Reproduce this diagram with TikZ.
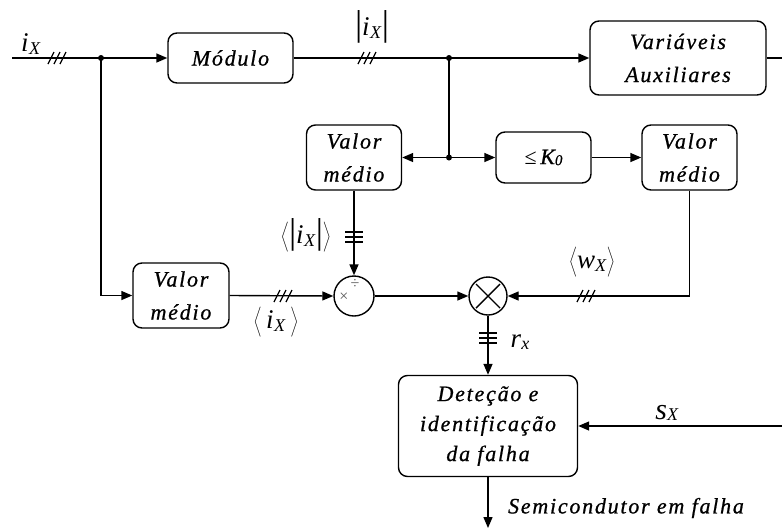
\documentclass[tikz,border=0pt]{standalone}
\usepackage{fontspec}
\setmainfont{Liberation Serif}[ItalicFont=Liberation Serif Italic]
\newfontfamily\boxfont{Liberation Serif}[LetterSpace=8,ItalicFont=Liberation Serif Italic,
  ItalicFeatures={FakeBold=0.8}]
\usetikzlibrary{arrows.meta}

% symbols used in the signal labels
\newcommand\subX{\raisebox{-3pt}{\fontsize{18}{18}\selectfont\textit{X}}}
\newcommand\ixsym{\textit{i}\kern0.5pt\subX}
\newcommand\vbar{{\fontsize{36}{36}\selectfont\upshape|}}
\newcommand\avg[1]{\ensuremath{\left\langle\rule[-12pt]{0pt}{36pt}\hbox{#1}\right\rangle}}

\tikzset{
  wire/.style={line width=1.4pt},
  arr/.style={wire, -{Triangle[length=11pt,width=9pt]}},
  blk/.style={draw, line width=1.4pt, rounded corners=9pt, align=center,
    inner sep=0pt, font=\boxfont\itshape\fontsize{22}{33}\selectfont},
  sumc/.style={draw, circle, line width=1.4pt, inner sep=0pt},
  lbl/.style={inner sep=0pt, font=\fontsize{27}{27}\selectfont},
  tslash/.pic={\foreach \d in {-6,0,6} \draw[line width=1.2pt] (\d-3,6) -- (\d+3,-6);},
  tbars/.pic={\foreach \d in {-5,0,5} \draw[line width=1.2pt] (-9,\d) -- (9,\d);}
}

\begin{document}
\begin{tikzpicture}[x=1pt,y=-1pt]
\useasboundingbox (0,0) rectangle (782,528);

% blocks
\node[blk, minimum width=125pt, minimum height=50pt] (mod) at (230.5,58) {Módulo};
\node[blk, minimum width=176pt, minimum height=74pt] (var) at (678,58) {Variáveis\\Auxiliares};
\node[blk, minimum width=95pt, minimum height=65pt] (vma) at (354,157.5) {Valor\\médio};
\node[blk, minimum width=95pt, minimum height=51pt] (kz) at (543.5,157.5)
  {\upshape≤\,\itshape K\raisebox{-1pt}{\fontsize{15}{15}\selectfont 0}};
\node[blk, minimum width=95pt, minimum height=65pt] (vmb) at (689.5,157.5) {Valor\\médio};
\node[blk, minimum width=96pt, minimum height=65pt] (vmc) at (181,295.5) {Valor\\médio};
\node[blk, minimum width=179pt, minimum height=101pt,
  font=\boxfont\itshape\fontsize{22}{30}\selectfont] (det) at (488,426)
  {Deteção e\\identificação\\da falha};

% divider and multiplier
\node[sumc, minimum size=40pt] (dv) at (354,296) {};
\node[inner sep=0pt, text=black!65, font=\fontsize{16}{16}\selectfont] (dvx) at (344,297) {×};
\node[inner sep=0pt, text=black!65, font=\fontsize{16}{16}\selectfont] (dvd) at (355,284) {÷};
\node[sumc, minimum size=38pt] (ml) at (488,296) {};
\draw[wire] ([shift={(-12,-12)}]ml.center) -- ([shift={(12,12)}]ml.center);
\draw[wire] ([shift={(-12,12)}]ml.center) -- ([shift={(12,-12)}]ml.center);

% junctions and free ends
\coordinate (inp) at (12,58);
\coordinate (ja) at (101,58);
\coordinate (jb) at (449,58);
\coordinate (jc) at (449,157.5);
\coordinate (outa) at (782,58);
\coordinate (sxin) at (782,426);
\coordinate (fout) at (488,528);

% connectors
\draw[arr] (inp) -- (mod.west);
\draw[arr] (mod.east) -- (var.west);
\draw[wire] (var.east) -- (outa);
\draw[wire] (jb) -- (jc);
\draw[arr] (jc) -- (vma.east);
\draw[arr] (jc) -- (kz.west);
\draw[arr] (kz.east) -- (vmb.west);
\draw[arr] (vmb.south) |- (ml.east);
\draw[arr] (ja) |- (vmc.west);
\draw[arr] (vmc.east) -- (dv.west);
\draw[arr] (vma.south) -- (dv.north);
\draw[arr] (dv.east) -- (ml.west);
\draw[arr] (ml.south) -- (det.north);
\draw[arr] (sxin) -- (det.east);
\draw[arr] (det.south) -- (fout);

\fill (ja) circle (3pt);
\fill (jb) circle (3pt);
\fill (jc) circle (3pt);

% bus markers
\pic at (57,58) {tslash};
\pic at (367,58) {tslash};
\pic at (283,296) {tslash};
\pic at (586,296) {tslash};
\pic at (354,237) {tbars};
\pic at (488,338) {tbars};

% signal labels
\node[lbl] (lix) at (31,44) {\ixsym};
\node[lbl] (labs) at (372,27) {\vbar\ixsym\vbar};
\node[lbl] (lavga) at (306,237) {\avg{\vbar\ixsym\vbar}};
\node[lbl] (lavgb) at (276,322) {\avg{\,\ixsym\,}};
\node[lbl] (lw) at (592,262) {\avg{\textit{w}\subX}};
\node[lbl] (lr) at (520,342) {\textit{r}\raisebox{-2pt}{\fontsize{18}{18}\selectfont\textit{x}}};
\node[lbl] (ls) at (667,413) {{\fontsize{30}{30}\selectfont\textit{s}}\raisebox{-1pt}{\fontsize{18}{18}\selectfont\textit{X}}};
\node[lbl, font=\boxfont\itshape\fontsize{22}{22}\selectfont] (lsemi) at (626,508) {Semicondutor em falha};
\end{tikzpicture}
\end{document}
